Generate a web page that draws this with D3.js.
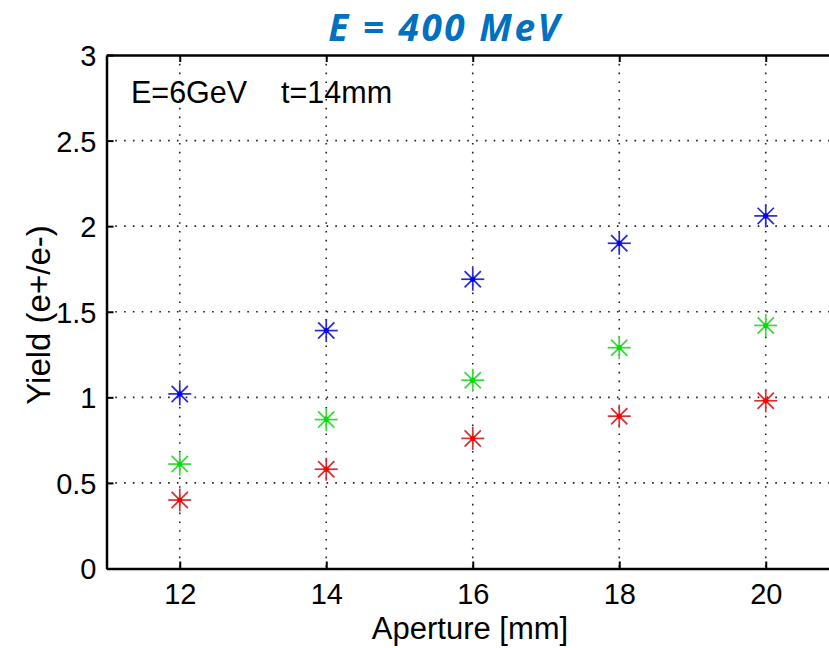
<!DOCTYPE html>
<html>
<head>
<meta charset="utf-8">
<script src="https://cdn.jsdelivr.net/npm/d3@7"></script>
<style>
  body { margin: 0; background: #fff; }
  svg { display: block; }
</style>
</head>
<body>
<svg id="chart" width="829" height="648"></svg>
<script>

const apertures = [12, 14, 16, 18, 20];
const yieldBlue = [1.02, 1.39, 1.69, 1.90, 2.06];
const yieldGreen = [0.61, 0.87, 1.10, 1.29, 1.42];
const yieldRed = [0.40, 0.58, 0.76, 0.89, 0.98];
const xTicks = [12, 14, 16, 18, 20];
const yTicks = [0, 0.5, 1, 1.5, 2, 2.5, 3];

const series = [
  { name: 'blue', values: yieldBlue, color: '#2a2ad0', dot: '#0000ff' },
  { name: 'green', values: yieldGreen, color: '#3ad83a', dot: '#00e000' },
  { name: 'red', values: yieldRed, color: '#d63030', dot: '#ff0000' }
];

const svg = d3.select('#chart');
const plotLeft = 106.5, plotRight = 839, plotTop = 55, plotBottom = 568.5;
const font = "'Liberation Sans', Arial, Helvetica, sans-serif";

const x = d3.scaleLinear().domain([11, 21]).range([plotLeft, plotRight]);
const y = d3.scaleLinear().domain([0, 3]).range([plotBottom, plotTop]);

// dotted grid
const grid = svg.append('g').attr('class', 'grid');
grid.selectAll('line.gx')
  .data(xTicks)
  .enter()
  .append('line')
    .attr('class', 'gx')
    .attr('x1', (d) => x(d)).attr('x2', (d) => x(d))
    .attr('y1', plotTop).attr('y2', plotBottom);
grid.selectAll('line.gy')
  .data(yTicks.filter((d) => d > 0 && d < 3))
  .enter()
  .append('line')
    .attr('class', 'gy')
    .attr('x1', plotLeft).attr('x2', plotRight)
    .attr('y1', (d) => y(d)).attr('y2', (d) => y(d));
grid.selectAll('line')
  .style('stroke', '#222')
  .style('stroke-width', 1.6)
  .style('stroke-dasharray', '1.6,7.2');

// axes with inward ticks
const xAxis = svg.append('g')
  .attr('transform', `translate(0,${plotBottom})`)
  .call(d3.axisBottom(x).tickValues(xTicks).tickSizeInner(-7).tickSizeOuter(0).tickPadding(15));
const xTop = svg.append('g')
  .attr('transform', `translate(0,${plotTop})`)
  .call(d3.axisTop(x).tickValues(xTicks).tickSizeInner(-7).tickSizeOuter(0).tickFormat(''));
const yAxis = svg.append('g')
  .attr('transform', `translate(${plotLeft},0)`)
  .call(d3.axisLeft(y).tickValues(yTicks).tickFormat(d3.format('~g'))
    .tickSizeInner(-7).tickSizeOuter(0).tickPadding(10));

[xAxis, xTop, yAxis].forEach((g) => {
  g.select('.domain').style('stroke', '#000').style('stroke-width', 2.5);
  g.selectAll('.tick line').style('stroke', '#000').style('stroke-width', 2);
  g.selectAll('.tick text')
    .style('font-family', font)
    .style('font-size', '29px')
    .style('fill', '#000');
});
yAxis.selectAll('.tick text').attr('dy', '0.36em');

// asterisk markers
const arm = 11.5;
const angles = [0, 45, 90, 135];
series.forEach((s) => {
  const pts = svg.append('g')
    .selectAll('g')
    .data(apertures.map((a, i) => ({ a: a, v: s.values[i] })))
    .enter()
    .append('g')
      .attr('transform', (d) => `translate(${x(d.a)},${y(d.v)})`);
  angles.forEach((ang) => {
    pts.append('line')
      .attr('x1', -arm).attr('x2', arm)
      .attr('y1', 0).attr('y2', 0)
      .attr('transform', `rotate(${ang})`)
      .style('stroke', s.color)
      .style('stroke-width', 1.7);
  });
  pts.append('circle')
    .attr('r', 2.6)
    .style('fill', s.dot);
});

// labels
svg.append('text')
  .text('Aperture [mm]')
  .attr('x', 470).attr('y', 639)
  .attr('text-anchor', 'middle')
  .style('font-family', font)
  .style('font-size', '31px');

svg.append('text')
  .text('Yield (e+/e-)')
  .attr('transform', 'translate(50,315) rotate(-90)')
  .attr('text-anchor', 'middle')
  .style('font-family', font)
  .style('font-size', '33px');

svg.append('text')
  .text('E=6GeV\u00a0\u00a0\u00a0 t=14mm')
  .attr('x', 131).attr('y', 103)
  .style('font-family', font)
  .style('font-size', '30.5px');

svg.append('text')
  .text('E = 400 MeV')
  .attr('x', 445).attr('y', 41)
  .attr('text-anchor', 'middle')
  .style('font-family', "'Open Sans', sans-serif")
  .style('font-weight', '700')
  .style('font-style', 'italic')
  .style('font-size', '37px')
  .style('letter-spacing', '2.5px')
  .style('fill', '#0070c0');

</script>
</body>
</html>
